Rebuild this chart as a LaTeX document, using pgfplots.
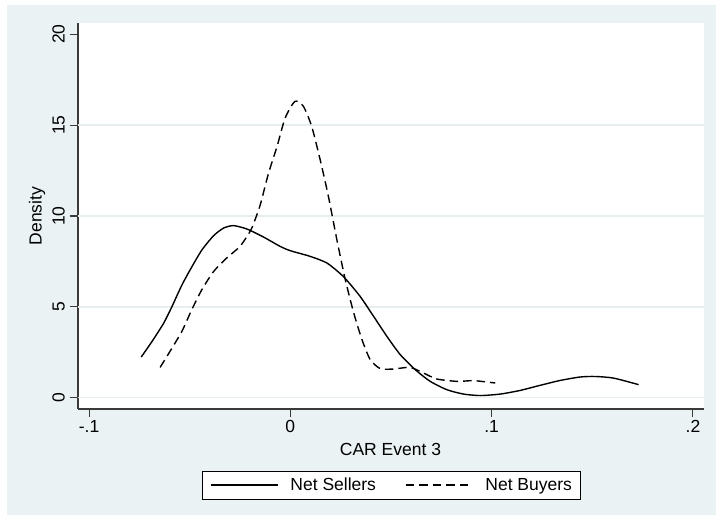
\documentclass[border=0pt]{standalone}
\usepackage{pgfplots}
\pgfplotsset{compat=1.18}
\usepackage{fontspec}
\setmainfont{Liberation Sans}
\definecolor{bgc}{HTML}{EAF2F3}
\definecolor{gridc}{HTML}{E6EEF0}
\definecolor{axc}{HTML}{3A3A3A}
\newcommand{\fs}{\fontsize{17.5}{21}\selectfont}
\begin{document}
\begin{tikzpicture}[x=1pt,y=1pt]
\useasboundingbox (0,0) rectangle (716,515);
\fill[bgc] (7,0) rectangle (716,510);
\begin{axis}[
  at={(78pt,106pt)}, anchor=south west,
  scale only axis, width=626pt, height=386pt,
  xmin=-0.1055, xmax=0.2055, ymin=-0.62, ymax=20.62,
  axis background/.style={fill=white},
  axis x line*=bottom, axis y line*=left,
  axis line style={-, draw=axc, line width=1.1pt},
  tick align=outside, major tick length=8pt,
  tick style={draw=axc, line width=1.1pt},
  xtick={-0.1,0,0.1,0.2}, xticklabels={-.1,0,.1,.2},
  ytick={0,5,10,15,20}, yticklabels={0,5,10,15,20},
  extra y ticks={0,5,10,15}, extra y tick labels={},
  extra y tick style={grid=major, major tick length=0pt, tick style={draw=none}},
  major grid style={draw=gridc, line width=1.3pt},
  tick label style={font=\fs},
  yticklabel style={rotate=90, anchor=south, inner sep=5pt},
  xticklabel style={anchor=north, inner sep=3pt},
  every axis x label/.style={at={(axis description cs:0.4992,-0.1036)}, anchor=center, font=\fs},
  every axis y label/.style={at={(axis description cs:-0.0655,0.5)}, rotate=90, anchor=center, font=\fs},
  xlabel={CAR Event 3}, ylabel={Density},
  legend columns=2,
  legend image code/.code={\draw[#1] (0pt,0pt) -- (67pt,0pt);},
  legend style={at={(axis description cs:0.5,-0.1969)}, anchor=center,
    draw=black, line width=0.8pt, fill=white, font=\fs,
    inner xsep=8pt, inner ysep=7pt,
    nodes={inner sep=0pt},
    /tikz/every odd column/.append style={column sep=12pt},
    /tikz/every even column/.append style={column sep=29pt}},
  clip=false,
]
\addplot[black, line width=1.4pt, smooth, tension=0.4] coordinates {
(-0.0741,2.24) (-0.0687,3.10) (-0.0629,4.11) (-0.0588,5.02) (-0.0538,6.22)
(-0.0488,7.23) (-0.0439,8.14) (-0.0381,8.92) (-0.0331,9.34) (-0.0282,9.47)
(-0.0215,9.28) (-0.0133,8.84) (-0.0051,8.33) (0.0,8.09) (0.0098,7.78)
(0.0182,7.41) (0.0265,6.65) (0.0347,5.57) (0.0414,4.47)
(0.048,3.37) (0.0546,2.37) (0.0621,1.54) (0.0695,0.90) (0.0778,0.44)
(0.0861,0.20) (0.0944,0.12) (0.1042,0.20) (0.1141,0.40) (0.124,0.68)
(0.134,0.95) (0.1439,1.14) (0.1514,1.17) (0.1606,1.08) (0.173,0.72)
};
\addlegendentry{Net Sellers}
\addplot[black, line width=1.4pt, dash pattern=on 8.5pt off 5pt, smooth, tension=0.4] coordinates {
(-0.0647,1.67) (-0.0598,2.55) (-0.0539,3.65) (-0.049,4.84) (-0.044,5.94)
(-0.0381,6.95) (-0.0316,7.69) (-0.025,8.33) (-0.0200,9.15) (-0.0182,9.6)
(-0.015,10.6) (-0.0108,12.37) (-0.0066,13.83) (-0.0026,15.39) (0.0023,16.31)
(0.0065,16.03) (0.0106,14.93) (0.0148,13.10) (0.0189,11.08) (0.0231,8.70)
(0.0273,6.49) (0.0315,4.66) (0.0356,3.19) (0.0397,2.09) (0.0447,1.60)
(0.0513,1.58) (0.0595,1.67) (0.0661,1.36) (0.0728,1.03) (0.0828,0.90)
(0.0911,0.94) (0.1018,0.81)
};
\addlegendentry{Net Buyers}
\end{axis}
\end{tikzpicture}
\end{document}
